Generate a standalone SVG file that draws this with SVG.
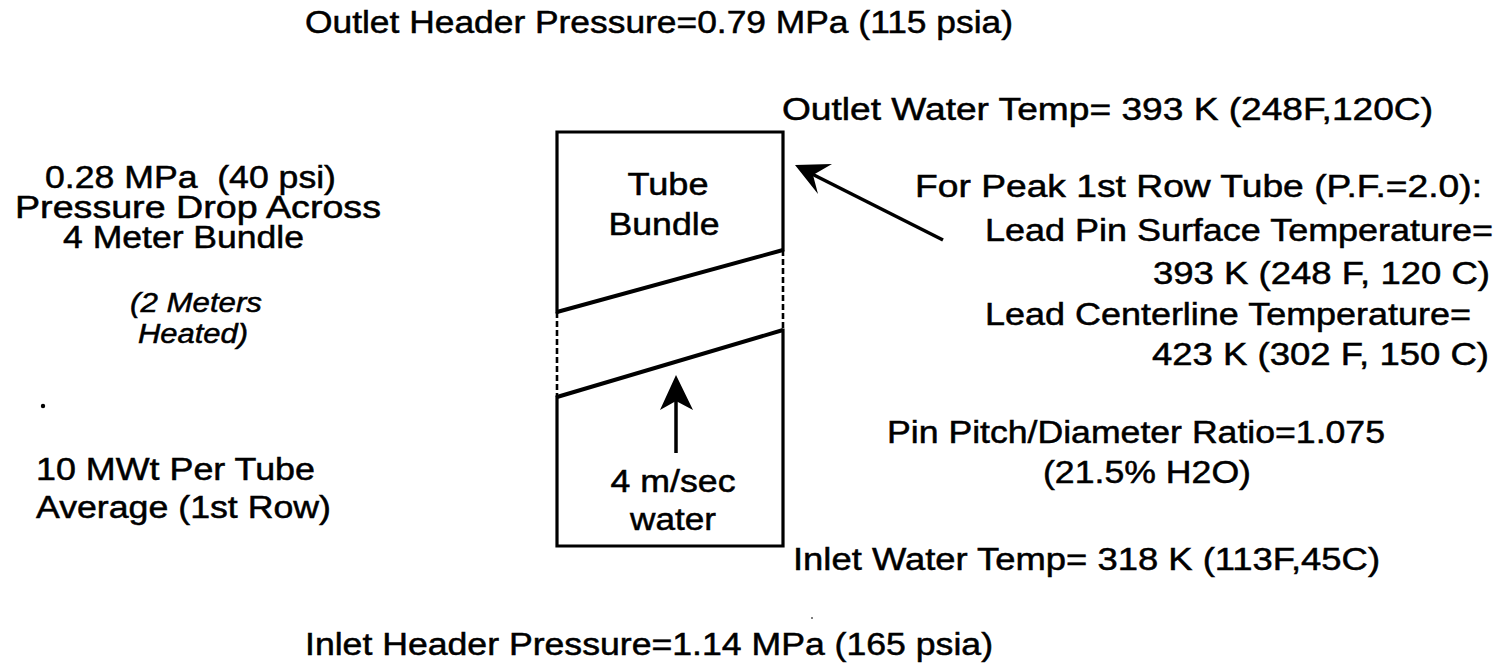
<svg xmlns="http://www.w3.org/2000/svg" width="1508" height="669" viewBox="0 0 1508 669">
<style>
text{font-family:"Liberation Sans",Arial,Helvetica,sans-serif;font-size:31px;fill:#000;stroke:#000;stroke-width:0.5}
.it{font-style:italic;font-size:27px}
.mid{text-anchor:middle}
.solid{stroke:#000;stroke-width:3.2;fill:none;stroke-linecap:square}
.dash{stroke:#000;stroke-width:2.6;fill:none;stroke-dasharray:6 3}
.slant{stroke:#000;stroke-width:4;fill:none}
.shaft{stroke:#000;stroke-width:3.5;fill:none}
</style>
<rect width="1508" height="669" fill="#fff"/>
<g id="tube-bundle">
  <polyline class="solid" points="557,312 557,132 783,132 783,250"/>
  <polyline class="solid" points="557,397 557,546 783,546 783,330"/>
  <line class="dash" x1="557" y1="312" x2="557" y2="397"/>
  <line class="dash" x1="783" y1="250" x2="783" y2="330"/>
  <line class="slant" x1="557" y1="312" x2="783" y2="250"/>
  <line class="slant" x1="557" y1="397" x2="783" y2="330"/>
  <text class="mid" x="668" y="195" textLength="81" lengthAdjust="spacingAndGlyphs">Tube</text>
  <text class="mid" x="664" y="235" textLength="111" lengthAdjust="spacingAndGlyphs">Bundle</text>
  <text class="mid" x="673" y="492" textLength="125" lengthAdjust="spacingAndGlyphs">4 m/sec</text>
  <text class="mid" x="673" y="530" textLength="86" lengthAdjust="spacingAndGlyphs">water</text>
</g>
<g id="connectors">
  <line class="shaft" x1="676" y1="453" x2="676" y2="398"/>
  <path d="M676,375 L693,410 L676,401 L660,410 Z" fill="#000"/>
  <line class="shaft" x1="943" y1="240" x2="810" y2="173"/>
  <path d="M795,165 L832,164 L813,175 L818,194 Z" fill="#000"/>
</g>
<g id="outlet-header">
  <text x="305" y="33" textLength="708" lengthAdjust="spacingAndGlyphs">Outlet Header Pressure=0.79 MPa (115 psia)</text>
</g>
<g id="outlet-water">
  <text x="782" y="120" textLength="651" lengthAdjust="spacingAndGlyphs">Outlet Water Temp= 393 K (248F,120C)</text>
</g>
<g id="pressure-drop">
  <text x="45" y="188" xml:space="preserve" textLength="291" lengthAdjust="spacingAndGlyphs">0.28 MPa  (40 psi)</text>
  <text x="15" y="218" textLength="366" lengthAdjust="spacingAndGlyphs">Pressure Drop Across</text>
  <text x="63" y="248" textLength="241" lengthAdjust="spacingAndGlyphs">4 Meter Bundle</text>
  <text class="it" x="130" y="312" textLength="132" lengthAdjust="spacingAndGlyphs">(2 Meters</text>
  <text class="it" x="138" y="343" textLength="110" lengthAdjust="spacingAndGlyphs">Heated)</text>
</g>
<circle cx="43" cy="406" r="2.2" fill="#000"/>
<circle cx="812" cy="618" r="1" fill="#555"/>
<g id="power">
  <text x="36" y="480" textLength="279" lengthAdjust="spacingAndGlyphs">10 MWt Per Tube</text>
  <text x="36" y="518" textLength="295" lengthAdjust="spacingAndGlyphs">Average (1st Row)</text>
</g>
<g id="peak-tube">
  <text x="915" y="197" textLength="567" lengthAdjust="spacingAndGlyphs">For Peak 1st Row Tube (P.F.=2.0):</text>
  <text x="985" y="241" textLength="508" lengthAdjust="spacingAndGlyphs">Lead Pin Surface Temperature=</text>
  <text x="1153" y="284" textLength="337" lengthAdjust="spacingAndGlyphs">393 K (248 F, 120 C)</text>
  <text x="985" y="325" textLength="486" lengthAdjust="spacingAndGlyphs">Lead Centerline Temperature=</text>
  <text x="1152" y="365" textLength="337" lengthAdjust="spacingAndGlyphs">423 K (302 F, 150 C)</text>
</g>
<g id="pin-pitch">
  <text x="887" y="443" textLength="498" lengthAdjust="spacingAndGlyphs">Pin Pitch/Diameter Ratio=1.075</text>
  <text x="1043" y="483" textLength="208" lengthAdjust="spacingAndGlyphs">(21.5% H2O)</text>
</g>
<g id="inlet-water">
  <text x="793" y="570" textLength="587" lengthAdjust="spacingAndGlyphs">Inlet Water Temp= 318 K (113F,45C)</text>
</g>
<g id="inlet-header">
  <text x="305" y="655" textLength="688" lengthAdjust="spacingAndGlyphs">Inlet Header Pressure=1.14 MPa (165 psia)</text>
</g>
</svg>
